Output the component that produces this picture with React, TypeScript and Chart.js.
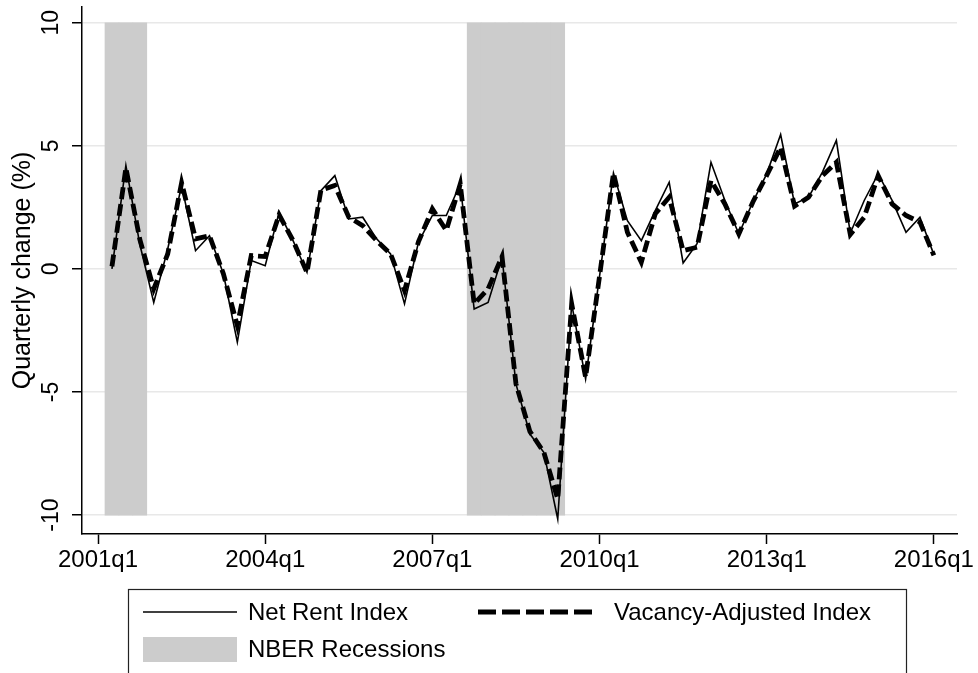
import React, { useEffect, useRef } from "react";
import { Chart, registerables } from "chart.js";

Chart.register(...registerables);

const quarters = [
  "2001q1", "2001q2", "2001q3", "2001q4",
  "2002q1", "2002q2", "2002q3", "2002q4",
  "2003q1", "2003q2", "2003q3", "2003q4",
  "2004q1", "2004q2", "2004q3", "2004q4",
  "2005q1", "2005q2", "2005q3", "2005q4",
  "2006q1", "2006q2", "2006q3", "2006q4",
  "2007q1", "2007q2", "2007q3", "2007q4",
  "2008q1", "2008q2", "2008q3", "2008q4",
  "2009q1", "2009q2", "2009q3", "2009q4",
  "2010q1", "2010q2", "2010q3", "2010q4",
  "2011q1", "2011q2", "2011q3", "2011q4",
  "2012q1", "2012q2", "2012q3", "2012q4",
  "2013q1", "2013q2", "2013q3", "2013q4",
  "2014q1", "2014q2", "2014q3", "2014q4",
  "2015q1", "2015q2", "2015q3", "2015q4",
  "2016q1",
];

const netRentIndex = [
  null, 0.0, 4.2, 1.0,
  -1.36, 0.8, 3.4, 0.74,
  1.35, -0.2, -2.98, 0.34,
  0.13, 2.3, 1.15, -0.14,
  3.18, 3.79, 2.03, 2.1,
  1.22, 0.61, -1.42, 1.08,
  2.17, 2.17, 3.45, -1.63,
  -1.36, 0.47, -4.67, -6.71,
  -7.45, -10.16, -1.42, -4.47,
  -0.3, 3.89, 1.96, 1.15,
  2.37, 3.52, 0.24, 1.02,
  4.33, 2.78, 1.42, 2.71,
  3.86, 5.46, 2.64, 2.91,
  3.93, 5.22, 1.45, 2.78,
  3.86, 2.78, 1.49, 2.1,
  0.58,
];

const vacancyAdjustedIndex = [
  null, 0.1, 4.1, 1.2,
  -0.81, 0.6, 3.5, 1.22,
  1.35, -0.2, -2.3, 0.54,
  0.5, 2.2, 1.15, -0.15,
  3.2, 3.39, 2.1, 1.76,
  1.15, 0.61, -0.88, 1.1,
  2.44, 1.56, 3.45, -1.42,
  -0.81, 0.5, -4.67, -6.6,
  -7.45, -9.35, -1.42, -4.4,
  -0.3, 3.89, 1.49, 0.27,
  2.24, 2.91, 0.74, 0.88,
  3.59, 2.64, 1.42, 2.71,
  3.8, 4.94, 2.55, 2.91,
  3.79, 4.33, 1.4, 2.1,
  3.79, 2.64, 2.17, 1.9,
  0.55,
];

const recessionQuarters = [
  "2001q2", "2001q3", "2001q4",
  "2007q4", "2008q1", "2008q2", "2008q3", "2008q4", "2009q1", "2009q2",
];
const recessionRange = [-10, 10];

const xTickLabels = ["2001q1", "2004q1", "2007q1", "2010q1", "2013q1", "2016q1"];
const yTickValues = [-10, -5, 0, 5, 10];
const yTitle = "Quarterly change (%)";

const FONT = '"Liberation Sans", Arial, Helvetica, sans-serif';

const decorPlugin = {
  id: "stataDecor",
  afterDraw(chart: any) {
    const ctx = chart.ctx as CanvasRenderingContext2D;
    const ys = chart.scales.y;
    const area = chart.chartArea;
    ctx.save();
    ctx.fillStyle = "#000";
    // y tick labels (rotated, Stata style)
    ctx.font = `23px ${FONT}`;
    ctx.textAlign = "center";
    ctx.textBaseline = "alphabetic";
    ys.ticks.forEach((t: any) => {
      const py = ys.getPixelForValue(t.value);
      ctx.save();
      ctx.translate(57.5, py);
      ctx.rotate(-Math.PI / 2);
      ctx.fillText(String(t.value), 0, 0);
      ctx.restore();
    });
    // y axis title
    ctx.font = `25px ${FONT}`;
    ctx.save();
    ctx.translate(30, (area.top + area.bottom) / 2);
    ctx.rotate(-Math.PI / 2);
    ctx.fillText(yTitle, 0, 0);
    ctx.restore();

    // legend
    const ds = chart.data.datasets;
    const bar = ds[0];
    const solid = ds[1];
    const dashed = ds[2];
    ctx.strokeStyle = "#222";
    ctx.lineWidth = 1.2;
    ctx.strokeRect(128.5, 589.5, 778, 140);

    ctx.font = `24px ${FONT}`;
    ctx.textAlign = "left";
    ctx.textBaseline = "middle";

    ctx.beginPath();
    ctx.strokeStyle = solid.borderColor;
    ctx.lineWidth = solid.borderWidth;
    ctx.moveTo(143, 612);
    ctx.lineTo(237, 612);
    ctx.stroke();
    ctx.fillText(solid.label, 248, 613);

    ctx.beginPath();
    ctx.strokeStyle = dashed.borderColor;
    ctx.lineWidth = dashed.borderWidth;
    ctx.setLineDash([18, 6]);
    ctx.moveTo(478, 612);
    ctx.lineTo(592, 612);
    ctx.stroke();
    ctx.setLineDash([]);
    ctx.fillText(dashed.label, 614, 613);

    ctx.fillStyle = bar.backgroundColor;
    ctx.fillRect(143, 637, 94, 25);
    ctx.fillStyle = "#000";
    ctx.fillText(bar.label, 248, 650);
    ctx.restore();
  },
};

export default function App() {
  const ref = useRef<HTMLCanvasElement | null>(null);

  useEffect(() => {
    const canvas = ref.current;
    if (!canvas) return;
    const chart = new Chart(canvas, {
      type: "line",
      data: {
        datasets: [
          {
            type: "bar",
            label: "NBER Recessions",
            data: recessionQuarters.map((q) => ({ x: quarters.indexOf(q), y: recessionRange })),
            backgroundColor: "#cccccc",
            borderWidth: 0,
            barPercentage: 1,
            categoryPercentage: 1,
            order: 3,
          } as any,
          {
            type: "line",
            label: "Net Rent Index",
            data: quarters.map((q, i) => ({ x: i, y: netRentIndex[i] })),
            borderColor: "#000000",
            borderWidth: 1.6,
            pointRadius: 0,
            tension: 0,
            spanGaps: false,
            order: 2,
          } as any,
          {
            type: "line",
            label: "Vacancy-Adjusted Index",
            data: quarters.map((q, i) => ({ x: i, y: vacancyAdjustedIndex[i] })),
            borderColor: "#000000",
            borderWidth: 4.8,
            borderDash: [12, 5],
            borderCapStyle: "butt",
            pointRadius: 0,
            tension: 0,
            order: 1,
          } as any,
        ],
      },
      options: {
        responsive: false,
        animation: false,
        devicePixelRatio: 1,
        layout: { padding: { left: 0, top: 7, right: 21, bottom: 0 } },
        plugins: { legend: { display: false }, tooltip: { enabled: false } },
        scales: {
          x: {
            type: "linear",
            min: -1.15,
            max: 61.66,
            offset: false,
            afterBuildTicks: (s: any) => {
              s.ticks = xTickLabels.map((l) => ({ value: quarters.indexOf(l) }));
            },
            afterFit: (s: any) => {
              s.height = 139;
            },
            ticks: {
              callback: (v: any) => quarters[v as number],
              font: { family: FONT, size: 24 },
              color: "#000",
              padding: 2,
              maxRotation: 0,
              minRotation: 0,
              autoSkip: false,
            },
            grid: {
              display: true,
              offset: false,
              drawOnChartArea: false,
              drawTicks: true,
              tickLength: 10,
              tickColor: "#000",
              tickWidth: 1.5,
            },
            border: { display: true, color: "#000", width: 1.5 },
          },
          y: {
            type: "linear",
            min: -10.77,
            max: 10.64,
            afterBuildTicks: (s: any) => {
              s.ticks = yTickValues.map((v) => ({ value: v }));
            },
            afterFit: (s: any) => {
              s.width = 82;
            },
            ticks: { display: false },
            grid: {
              color: "#e8e8e8",
              lineWidth: 1.5,
              offset: false,
              drawTicks: true,
              tickLength: 10,
              tickColor: "#000",
              tickWidth: 1.5,
            },
            border: { display: true, color: "#000", width: 1.5 },
          },
        },
      },
      plugins: [decorPlugin],
    } as any);
    return () => chart.destroy();
  }, []);

  return (
    <div style={{ position: "fixed", left: 0, top: 0, width: 978, height: 673, overflow: "hidden", background: "#fff" }}>
      <canvas ref={ref} width={978} height={673} style={{ width: 978, height: 673, display: "block" }} />
    </div>
  );
}
